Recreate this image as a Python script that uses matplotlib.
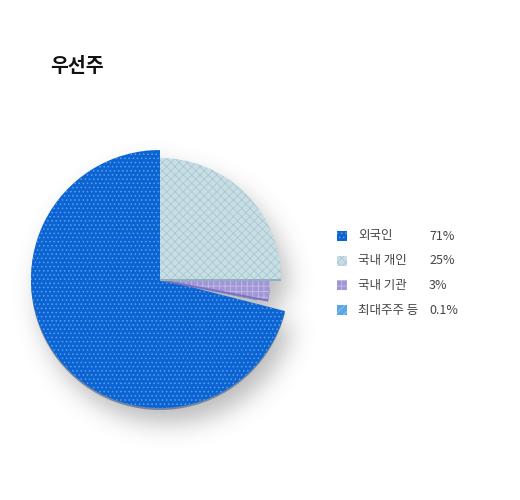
import numpy as np
import matplotlib
matplotlib.use('Agg')
import matplotlib.pyplot as plt
from matplotlib.patches import Rectangle

plt.rcParams['font.family'] = ['Noto Sans CJK KR', 'DejaVu Sans']
plt.rcParams['hatch.linewidth'] = 0.6

title = '우선주'
categories = ['외국인', '국내 개인', '국내 기관', '최대주주 등']
values = [71, 25, 3, 0.1]
pct_labels = ['71%', '25%', '3%', '0.1%']

radii = [129, 121, 110, 99]
faces = ['#0b64d2', '#c8dee4', '#a297d6', '#5aa6e6']
hatches = ['....', 'xxxx', '+++', '////']
hatch_cols = ['#5aa0ec', '#a9c8d2', '#c4bbea', '#95cbf3']
rims = ['#7585a0', '#8db2bd', '#7e6fc2', '#3a7fc0']

W, H = 520, 500
fig = plt.figure(figsize=(W / 100, H / 100), dpi=100)
ax = fig.add_axes([0, 0, 1, 1])
cx, cy = 160, H - 279
fracs = [v / 100 for v in values]

# the largest slice runs counter-clockwise from 12 o'clock,
# the others clockwise from 12 o'clock
cw_order = [1, 2, 3]


def draw_slice(idx, center, face, hatch=None, hcol=None, z=1):
    if idx == 0:
        vals = [fracs[0]]
        k = 0
        wedges, _ = ax.pie(vals, radius=radii[idx], center=center, startangle=90,
                           counterclock=True, normalize=False)
    else:
        vals = [fracs[i] for i in cw_order]
        k = cw_order.index(idx)
        wedges, _ = ax.pie(vals, radius=radii[idx], center=center, startangle=90,
                           counterclock=False, normalize=False)
    for j, w in enumerate(wedges):
        if j != k:
            w.remove()
    w = wedges[k]
    w.set_facecolor(face)
    w.set_linewidth(0)
    if hatch:
        w.set_hatch(hatch)
        w.set_edgecolor(hcol)
    else:
        w.set_edgecolor(face)
    w.set_zorder(z)
    return w


draw_order = [0, 3, 2, 1]
tops = []
for n, idx in enumerate(draw_order):
    draw_slice(idx, (cx, cy - 2), rims[idx], z=2 + 2 * n)
    tops.append(draw_slice(idx, (cx, cy), faces[idx], hatches[idx], hatch_cols[idx], z=3 + 2 * n))

# soft drop shadow from the slice shapes
xs = np.arange(W) + 0.5
ys = H - (np.arange(H) + 0.5)
gx, gy = np.meshgrid(xs, ys)
dx, dy = 8, -15
pts = np.column_stack([(gx - dx).ravel(), (gy - dy).ravel()])
mask = np.zeros(W * H)
for w in tops:
    mask = np.maximum(mask, w.get_path().contains_points(pts).astype(float))
mask = mask.reshape(H, W)


def gblur(a, s):
    ky = np.fft.fftfreq(a.shape[0])
    kx = np.fft.fftfreq(a.shape[1])
    G = np.exp(-2 * np.pi ** 2 * s ** 2 * (ky[:, None] ** 2 + kx[None, :] ** 2))
    return np.real(np.fft.ifft2(np.fft.fft2(a) * G))


sh = np.clip(gblur(mask, 12), 0, 1)
img = np.zeros((H, W, 4))
img[..., :3] = 0.3
img[..., 3] = sh * 0.38
ax.imshow(img, extent=(0, W, 0, H), origin='upper', zorder=0, interpolation='bilinear')

ax.set_xlim(0, W)
ax.set_ylim(0, H)
ax.set_aspect('equal')
ax.axis('off')

# title
ax.text(50, H - 67, title, fontsize=14, fontweight='bold', color='#111111',
        va='center', ha='left')

# legend
for i, (cat, pct) in enumerate(zip(categories, pct_labels)):
    y = H - (236 + 24.7 * i)
    ax.add_patch(Rectangle((337, y - 5), 10, 10, facecolor=faces[i], hatch=hatches[i],
                           edgecolor=hatch_cols[i], linewidth=0, zorder=5))
    ax.text(358, y, cat, fontsize=9, color='#444444', va='center', ha='left')
    ax.text(429, y, pct, fontsize=9, color='#444444', va='center', ha='left')

fig.savefig('out.png', dpi=100)
